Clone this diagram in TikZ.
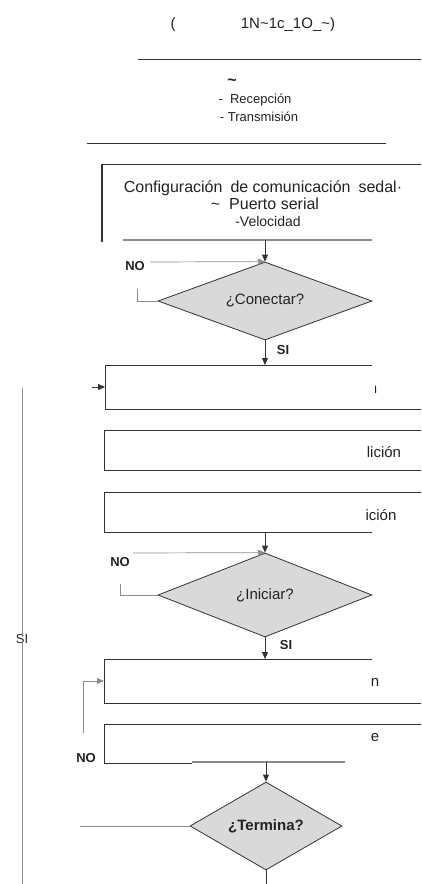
\documentclass[tikz,border=0pt]{standalone}
\usepackage{fontspec}
\setmainfont{Liberation Sans}
\usetikzlibrary{shapes.geometric,arrows.meta}
\definecolor{ln}{HTML}{333333}
\definecolor{lg}{HTML}{8C8C8C}
\definecolor{dfill}{HTML}{D9D9D9}
\definecolor{tx}{HTML}{222222}
\tikzset{
  ln/.style={draw=ln, line width=0.8pt},
  lnthin/.style={draw=ln, line width=0.6pt},
  lngray/.style={draw=lg, line width=1.3pt},
  arr/.style={ln, -{Triangle[width=6pt,length=7pt]}},
  arrthin/.style={draw=lg, line width=0.7pt, -{Triangle[width=6pt,length=7pt]}},
  dec/.style={shape=diamond, draw=ln, fill=dfill, line width=0.8pt, inner sep=0pt, text=tx, font=\fontsize{15}{17}\selectfont},
  lbl/.style={inner sep=0pt, text=tx, font=\bfseries\fontsize{13}{15}\selectfont},
  txt/.style={inner sep=0pt, text=tx, font=\fontsize{13}{15}\selectfont},
  btxt/.style={inner sep=0pt, text=tx, font=\fontsize{15}{17}\selectfont}
}
\begin{document}
\begin{tikzpicture}[x=1pt,y=-1pt]
\useasboundingbox (0,0) rectangle (421,884);

% ---- top header ----
\node[btxt] (par) at (173,25) {(};
\node[btxt] (code) at (288,25) {1N\textasciitilde 1c\_1O\_\textasciitilde)};
\coordinate (l1a) at (138,59); \coordinate (l1b) at (421,59);
\draw[lnthin] (l1a) -- (l1b);
\node[inner sep=0pt, text=tx, font=\bfseries\fontsize{16}{16}\selectfont] (tilde) at (232,82) {\textasciitilde};
\node[txt] (rec) at (255,100) {-\ \ Recepción};
\node[txt] (tra) at (259,117) {- Transmisión};
\coordinate (l2a) at (87,143); \coordinate (l2b) at (386,143);
\draw[lnthin] (l2a) -- (l2b);

% ---- configuration box ----
\coordinate (cfgTL) at (102,164); \coordinate (cfgTR) at (421,164);
\coordinate (cfgBL) at (102,242);
\draw[draw=ln, line width=2.4pt] (cfgTL) -- (cfgBL);
\draw[lnthin] (cfgTL) -- (cfgTR);
\coordinate (cfgBa) at (123,240); \coordinate (cfgBb) at (372,240);
\draw[lngray] (cfgBa) -- (cfgBb);
\node[btxt, font=\fontsize{16}{18}\selectfont] (cfg1) at (263,188) {Configuración\hspace{8pt}de comunicación\hspace{8pt}sedal·};
\node[btxt, font=\fontsize{16}{18}\selectfont] (cfg2) at (265,204) {\textasciitilde\ \ Puerto serial};
\node[txt, font=\fontsize{14}{16}\selectfont] (cfg3) at (268,221) {-Velocidad};
\coordinate (cfgOut) at (265,240);

% ---- Conectar ----
\node[dec, minimum width=214pt, minimum height=78pt, shape aspect=2.74] (d1) at (265,301) {¿Conectar?};
\draw[arr] (cfgOut) -- (d1.north);
\node[lbl] (no1) at (135,266) {NO};
\coordinate (no1s) at (150,262);
\draw[arrthin] (no1s) -- (d1.north);
\coordinate (st1) at (137,289);
\draw[draw=lg, line width=0.7pt] (st1) |- (d1.west);
\node[lbl] (si1) at (283,350) {SI};
\coordinate (b1in) at (265,365);
\draw[arr] (d1.south) -- (b1in);

% ---- box 1 ----
\coordinate (b1tl) at (105,365); \coordinate (b1tr) at (372,365);
\coordinate (b1bl) at (105,409); \coordinate (b1br) at (421,409);
\draw[ln] (b1tr) -- (b1tl) -- (b1bl) -- (b1br);
\begin{scope}
\clip (375,375) rectangle (421,402);
\node[btxt] (t1) at (373,389) {n};
\end{scope}
\coordinate (fa) at (92,387); \coordinate (fb) at (105,387);
\draw[arr] (fa) -- (fb);

% ---- box 2 ----
\coordinate (b2tl) at (104,430); \coordinate (b2tr) at (421,430);
\coordinate (b2bl) at (104,470); \coordinate (b2br) at (421,470);
\draw[ln] (b2tr) -- (b2tl) -- (b2bl) -- (b2br);
\node[btxt] (t2) at (384,452) {lición};

% ---- box 3 ----
\coordinate (b3tl) at (104,492); \coordinate (b3tr) at (421,492);
\coordinate (b3bl) at (104,532); \coordinate (b3br) at (372,532);
\draw[ln] (b3tr) -- (b3tl) -- (b3bl) -- (b3br);
\node[btxt] (t3) at (381,515) {ición};
\coordinate (b3out) at (265,532);

% ---- Iniciar ----
\node[dec, minimum width=214pt, minimum height=84pt, shape aspect=2.55] (d2) at (265,595) {¿Iniciar?};
\draw[arr] (b3out) -- (d2.north);
\node[lbl] (no2) at (120,562) {NO};
\coordinate (no2s) at (133,553);
\draw[arrthin] (no2s) -- (d2.north);
\coordinate (st2) at (120,584);
\draw[draw=lg, line width=0.7pt] (st2) |- (d2.west);
\node[lbl] (si2) at (286,645) {SI};
\coordinate (b4in) at (265,659);
\draw[arr] (d2.south) -- (b4in);

% ---- box 4 ----
\coordinate (b4tl) at (104,659); \coordinate (b4tr) at (372,659);
\coordinate (b4bl) at (104,703); \coordinate (b4br) at (421,703);
\draw[ln] (b4tr) -- (b4tl) -- (b4bl) -- (b4br);
\node[btxt] (t4) at (375,682) {n};
\coordinate (fb0) at (83,733); \coordinate (fb1) at (104,681);
\draw[arr, draw=lg] (fb0) |- (fb1);

% ---- box 5 ----
\coordinate (b5tl) at (104,724); \coordinate (b5tr) at (421,724);
\coordinate (b5bl) at (104,763); \coordinate (b5bm) at (192,763);
\coordinate (b5ga) at (192,762); \coordinate (b5gb) at (345,762);
\draw[ln] (b5tr) -- (b5tl) -- (b5bl) -- (b5bm);
\draw[lngray] (b5ga) -- (b5gb);
\node[btxt] (t5) at (375,738) {e};
\node[lbl] (no3) at (86,758) {NO};
\coordinate (b5out) at (266,762);

% ---- Termina ----
\node[dec, minimum width=152pt, minimum height=88pt, shape aspect=1.73, font=\bfseries\fontsize{15}{17}\selectfont] (d3) at (266,826) {¿Termina?};
\draw[arr] (b5out) -- (d3.north);
\coordinate (tl) at (80,826);
\draw[draw=lg, line width=0.7pt] (tl) -- (d3.west);
\coordinate (tb) at (266,884);
\draw[ln] (d3.south) -- (tb);

% ---- big SI loop line ----
\node[txt] (si4) at (22,639) {SI};
\coordinate (sitop) at (22,388); \coordinate (sibot) at (22,884);
\draw[draw=lg, line width=0.9pt] (sitop) -- ([yshift=-3pt]si4.north);
\draw[draw=lg, line width=0.9pt] ([yshift=3pt]si4.south) -- (sibot);
\end{tikzpicture}
\end{document}
